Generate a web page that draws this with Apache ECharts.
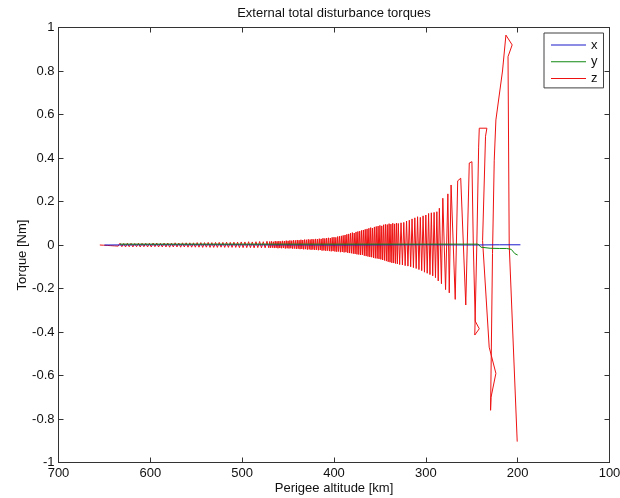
<!DOCTYPE html>
<html>
<head>
<meta charset="utf-8">
<script src="https://cdn.jsdelivr.net/npm/echarts@6/dist/echarts.min.js"></script>
<style>
html,body{margin:0;padding:0;background:#fff;}
#chart{width:620px;height:498px;}
</style>
</head>
<body>
<div id="chart"></div>
<script>
// ---- data ----
const titleText = 'External total disturbance torques';
const xName = 'Perigee altitude [km]';
const yName = 'Torque [Nm]';
const seriesNames = ['x', 'y', 'z'];
const xTicks = [100, 200, 300, 400, 500, 600, 700];
const yTicks = [-1, -0.8, -0.6, -0.4, -0.2, 0, 0.2, 0.4, 0.6, 0.8, 1];

// x component: [altitude km, torque Nm]
const xSeries = [[650,0.000],[600,0.001],[500,0.001],[400,0.000],[300,0.001],[250,0.000],[220,0.001],[197,0.001]];

// y component
const ySeries = [[633,0.004],[600,0.004],[500,0.004],[400,0.004],[300,0.004],[243,0.004],[240,-0.010],[230,-0.015],
  [220,-0.016],[212,-0.016],[207,-0.020],[203,-0.040],[200,-0.046]];

// z component (oscillation, peaks and troughs)
const zSeries = [
  [655,0],[653,0.001],[651,-0.001],[649,0.002],[647,-0.002],[645,0.003],[643,-0.003],[641,0.003],[639,-0.004],[637,0.004],[635,-0.005],
  [633,0.008],[631,-0.008],[629,0.007],[627,-0.009],[625,0.008],[623,-0.008],[621,0.008],[619,-0.009],[617,0.007],[615,-0.008],
  [613,0.008],[611,-0.009],[609,0.008],[607,-0.008],[605,0.008],[603,-0.009],[601,0.008],
  [599,-0.009],[597,0.009],[595,-0.008],[593,0.009],[591,-0.009],[589,0.008],[587,-0.009],[585,0.009],[583,-0.009],[581,0.009],
  [579,-0.010],[577,0.009],[575,-0.009],[573,0.010],[571,-0.009],[569,0.009],[567,-0.010],[565,0.010],[563,-0.009],[561,0.010],
  [559,-0.010],[557,0.010],[555,-0.010],[553,0.010],[551,-0.010],
  [549,0.011],[547,-0.010],[545,0.011],[543,-0.011],[541,0.011],[539,-0.010],[537,0.012],[535,-0.011],[533,0.011],[531,-0.011],
  [529,0.012],[527,-0.011],[525,0.012],[523,-0.010],[521,0.012],[519,-0.011],[517,0.013],[515,-0.011],[513,0.012],[511,-0.011],
  [509,0.013],[507,-0.011],[505,0.013],[503,-0.012],[501,0.014],
  [499,-0.012],[497,0.014],[495,-0.012],[493,0.015],[491,-0.012],[489,0.014],[487,-0.013],[485,0.015],[483,-0.012],[481,0.016],
  [479,-0.013],[477,0.015],[475,-0.013],[473,0.017],[471,-0.013],
  [470,0.016],[469,-0.013],[468,0.017],[467,-0.012],[466,0.015],[465,-0.014],[464,0.018],[463,-0.013],[462,0.017],[461,-0.015],
  [460,0.018],[459,-0.014],[458,0.017],[457,-0.015],[456,0.019],[455,-0.014],[454,0.018],[453,-0.016],[452,0.020],[451,-0.015],
  [450,0.019],[449,-0.016],[448,0.021],[447,-0.015],[446,0.020],[445,-0.017],[444,0.022],[443,-0.016],[442,0.021],[441,-0.018],
  [440,0.023],[439,-0.017],[438,0.022],[437,-0.019],[436,0.024],[435,-0.018],[434,0.023],[433,-0.020],[432,0.025],[431,-0.019],
  [430,0.024],[429,-0.021],[428,0.026],[427,-0.020],[426,0.025],[425,-0.022],[424,0.027],[423,-0.021],[422,0.026],[421,-0.023],
  [420,0.028],[419,-0.022],[418,0.027],[417,-0.024],[416,0.029],[415,-0.023],[414,0.028],[413,-0.026],[412,0.031],[411,-0.025],
  [410,0.030],[409,-0.027],[408,0.032],[407,-0.026],[406,0.033],[405,-0.028],[404,0.032],[403,-0.029],[402,0.035],[401,-0.028],
  [400,0.036],[399,-0.030],[398,0.035],[397,-0.031],[396,0.039],[395,-0.030],[394,0.040],[393,-0.033],[392,0.042],[391,-0.032],
  [390,0.044],[389,-0.034],[388,0.046],[387,-0.033],[386,0.049],[385,-0.036],[384,0.051],[383,-0.037],[382,0.054],[381,-0.038],
  [380,0.057],[379,-0.040],[378,0.055],[377,-0.041],[376,0.060],[375,-0.043],[374,0.062],[373,-0.044],[372,0.064],[371,-0.046],
  [370,0.067],[369,-0.045],[368,0.069],[367,-0.049],[366,0.072],[365,-0.051],[364,0.074],[363,-0.053],[362,0.077],[361,-0.055],
  [360,0.080],[359,-0.056],[358,0.078],[357,-0.059],[356,0.083],[355,-0.061],[354,0.085],[353,-0.062],[352,0.087],[351,-0.064],
  [350,0.090],[349,-0.066],[348,0.088],[347,-0.069],[346,0.093],[345,-0.071],[344,0.095],[343,-0.074],[342,0.094],[341,-0.077],
  [340,0.098],[339,-0.079],[338,0.096],[337,-0.082],[336,0.100],[335,-0.083],[334,0.097],[333,-0.085],[332,0.101],[331,-0.087],
  [330,0.099],
  [328.5,-0.090],[327,0.102],[325.5,-0.092],[324,0.104],[322.5,-0.095],[321,0.110],[319.5,-0.097],[318,0.114],[316.5,-0.100],
  [315,0.120],[313.5,-0.104],[312,0.125],[310.5,-0.108],[309,0.130],[307.5,-0.113],[306,0.127],[304.5,-0.118],[303,0.134],
  [301.5,-0.125],[300,0.138],[298.5,-0.130],[297,0.145],[295.5,-0.136],[294,0.148],[292.5,-0.142],[291,0.150],[289.5,-0.150],
  [288,0.153],[286.5,-0.165],[285.3,0.169],[283,-0.178],[281.5,0.215],[278.5,-0.205],[276,0.235],[274.5,-0.22],[272.5,0.276],
  [268,-0.25],[265.3,0.295],[262,0.307],[256.5,-0.276],[252.7,0.377],[249.8,0.383],[248.3,0.0],[246.2,-0.35],[241.8,-0.385],
  [246.7,-0.414],[244.5,0.0],[242.5,0.45],[241.8,0.537],[233.5,0.537],[235,0.50],[238.2,0.02],[231,-0.47],[223.7,-0.59],
  [229,-0.70],[229.5,-0.76],[227.4,-0.04],[225.5,0.39],[223.7,0.575],[216.5,0.80],[212.8,0.965],[206,0.92],[210.5,0.866],
  [209.2,0.0],[200.5,-0.904]
];

const colors = { x: '#1a1acc', y: '#108a10', z: '#ee1111' };

// ---- chart ----
const chart = echarts.init(document.getElementById('chart'), null, { renderer: 'canvas' });
const FONT = 'Liberation Sans, Arial, sans-serif';
const axisColor = '#333';
const xMin = xTicks[0], xMax = xTicks[xTicks.length - 1], xInt = xTicks[1] - xTicks[0];
const yMin = yTicks[0], yMax = yTicks[yTicks.length - 1], yInt = 0.2;
const yFmt = v => String(+(+v).toFixed(1));

function xAx(pos, showLabel, name) {
  return {
    type: 'value', position: pos, min: xMin, max: xMax, interval: xInt, inverse: true,
    name: name || '', nameLocation: 'middle', nameGap: 19, nameMoveOverlap: false,
    nameTextStyle: { fontFamily: FONT, fontSize: 13, color: '#111' },
    axisLine: { show: true, onZero: false, lineStyle: { color: axisColor, width: 1 } },
    axisTick: { show: true, inside: true, length: 5, lineStyle: { color: axisColor } },
    axisLabel: { show: showLabel, margin: 4.5, fontFamily: FONT, fontSize: 13, color: '#111' },
    splitLine: { show: false }
  };
}
function yAx(pos, showLabel, name) {
  return {
    type: 'value', position: pos, min: yMin, max: yMax, interval: yInt,
    name: name || '', nameLocation: 'middle', nameGap: 30, nameMoveOverlap: false,
    nameTextStyle: { fontFamily: FONT, fontSize: 13, color: '#111', padding: [0, 20, 0, 0] },
    axisLine: { show: true, onZero: false, lineStyle: { color: axisColor, width: 1 } },
    axisTick: { show: true, inside: true, length: 5, lineStyle: { color: axisColor } },
    axisLabel: { show: showLabel, margin: 4, fontFamily: FONT, fontSize: 13, color: '#111', formatter: yFmt },
    splitLine: { show: false }
  };
}

function lineSeries(name, data, z) {
  return {
    name: name, type: 'line', data: data, xAxisIndex: 0, yAxisIndex: 0,
    showSymbol: false, symbol: 'none', z: z,
    lineStyle: { color: colors[name], width: 1 }, itemStyle: { color: colors[name] },
    animation: false, silent: true
  };
}

chart.setOption({
  animation: false,
  backgroundColor: '#fff',
  title: {
    text: titleText, left: 334, top: 7, textAlign: 'center', padding: 0,
    textStyle: { fontFamily: FONT, fontSize: 13, fontWeight: 'normal', color: '#111' }
  },
  grid: { left: 58.5, right: 10.5, top: 27.5, bottom: 35.5, containLabel: false, outerBoundsMode: 'none' },
  legend: {
    data: seriesNames, orient: 'vertical', left: 544, top: 33, align: 'left',
    icon: 'rect', itemWidth: 35, itemHeight: 1, itemGap: 3.7,
    padding: [5.5, 6, 3, 7],
    backgroundColor: '#fff', borderColor: '#404040', borderWidth: 1, borderRadius: 0,
    textStyle: { fontFamily: FONT, fontSize: 13, color: '#111' }
  },
  xAxis: [xAx('bottom', true, xName), xAx('top', false)],
  yAxis: [yAx('left', true, yName), yAx('right', false)],
  series: [
    lineSeries('z', zSeries, 2),
    lineSeries('x', xSeries, 3),
    lineSeries('y', ySeries, 4)
  ]
});
</script>
</body>
</html>
